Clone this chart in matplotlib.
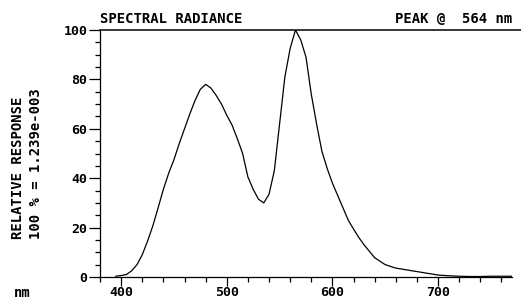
import matplotlib
matplotlib.use("Agg")
import matplotlib.pyplot as plt
from matplotlib.lines import Line2D
from matplotlib.ticker import MultipleLocator

wavelength = [395, 400, 405, 410, 415, 420, 425, 430, 435, 440, 445, 450, 455,
              460, 465, 470, 475, 480, 485, 490, 495, 500, 505, 510, 515, 520,
              525, 530, 535, 540, 545, 550, 555, 560, 565, 570, 575, 580, 585,
              590, 595, 600, 605, 610, 615, 620, 625, 630, 640, 650, 660, 670,
              680, 690, 700, 710, 720, 730, 740, 750, 760, 770]
response = [0.3, 0.6, 1.0, 2.5, 5.0, 9.0, 14.5, 20.7, 28.0, 35.5, 42.0, 47.5, 54.0,
            60.0, 66.0, 71.5, 76.0, 78.0, 76.5, 73.5, 70.0, 65.5, 61.5, 56.0, 50.0, 40.5,
            35.5, 31.5, 30.0, 33.5, 43.0, 62.0, 81.0, 92.5, 100.0, 96.0, 89.0, 74.0, 62.0,
            51.0, 44.0, 38.0, 33.0, 28.0, 23.0, 19.4, 16.0, 13.0, 7.8, 5.0, 3.6, 2.9,
            2.2, 1.5, 0.8, 0.5, 0.3, 0.2, 0.2, 0.3, 0.3, 0.3]

font = {"family": "DejaVu Sans Mono", "weight": "bold", "size": 10}
tick_font = dict(font, size=9.5)

fig = plt.figure(figsize=(5.21, 3.02), dpi=100)
ax = fig.add_axes([100 / 521, 25 / 302, 412 / 521, 247 / 302])

ax.plot(wavelength, response, color="black", lw=0.9)
ax.set_xlim(380, 770)
ax.set_ylim(0, 100)

for s in ["right", "top"]:
    ax.spines[s].set_visible(False)
for s in ["left", "bottom"]:
    ax.spines[s].set_linewidth(0.9)

ax.xaxis.set_major_locator(MultipleLocator(100))
ax.xaxis.set_minor_locator(MultipleLocator(20))
ax.yaxis.set_major_locator(MultipleLocator(20))
ax.yaxis.set_minor_locator(MultipleLocator(5))
ax.tick_params(axis="y", which="major", length=8, width=0.9, direction="out", pad=1)
ax.tick_params(axis="x", which="major", length=6.5, width=0.9, direction="out", pad=0)
ax.tick_params(which="minor", length=3.6, width=0.9, direction="out")
for lab in ax.get_xticklabels() + ax.get_yticklabels():
    lab.set_fontproperties(matplotlib.font_manager.FontProperties(**tick_font))

# top rule runs to the right edge
fig.add_artist(Line2D([100 / 521, 1.0], [272 / 302, 272 / 302],
                     transform=fig.transFigure, color="black", lw=1.1))

fig.text(100 / 521, 276 / 302, "SPECTRAL RADIANCE", ha="left", va="bottom", **font)
fig.text(512 / 521, 276 / 302, "PEAK @  564 nm", ha="right", va="bottom", **font)
fig.text(14 / 521, 9 / 302, "nm", ha="left", va="center", **font)
fig.text(18 / 521, 1 - 168 / 302, "RELATIVE RESPONSE", rotation=90,
         ha="center", va="center", **font)
fig.text(36 / 521, 1 - 164 / 302, "100 % = 1.239e-003", rotation=90,
         ha="center", va="center", **font)

fig.savefig("out.png", dpi=100)
